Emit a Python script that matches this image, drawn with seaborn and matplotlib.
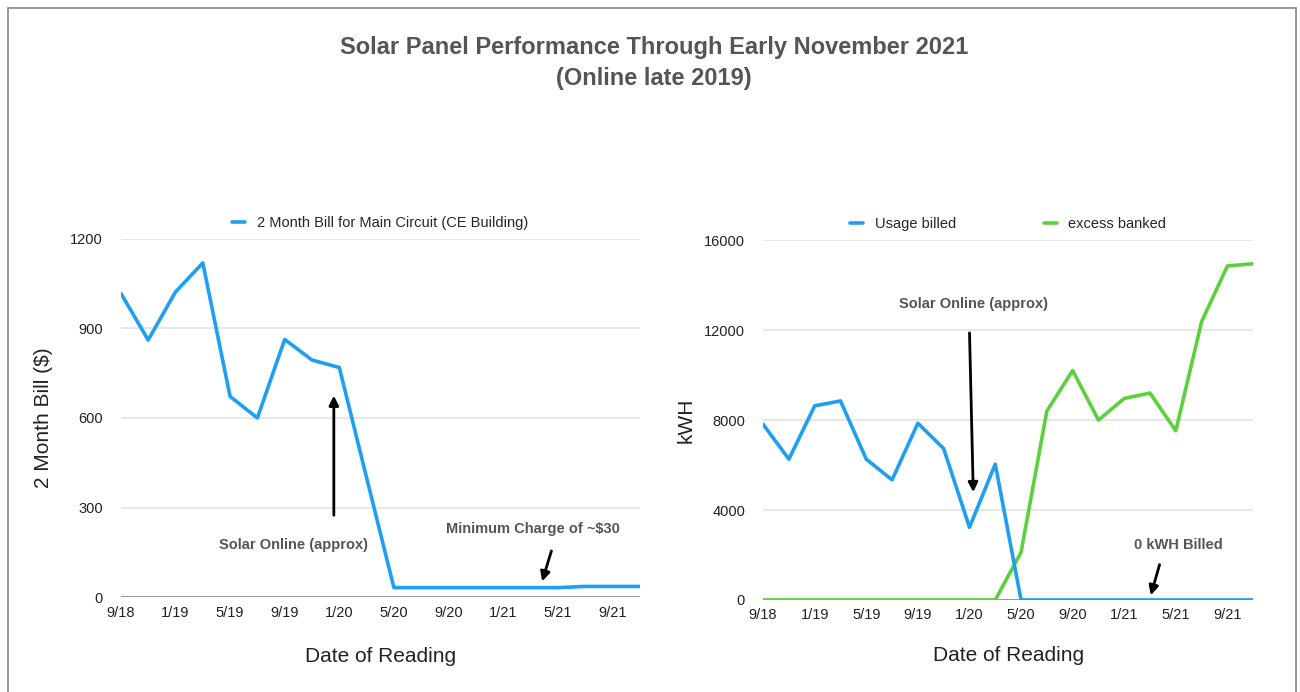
import matplotlib
matplotlib.use("Agg")
import matplotlib.pyplot as plt
from matplotlib.lines import Line2D
import seaborn as sns
import numpy as np
import pandas as pd

# bimonthly meter readings, 9/18 .. 11/21
reading_dates = ['9/18', '11/18', '1/19', '3/19', '5/19', '7/19', '9/19', '11/19',
                 '1/20', '3/20', '5/20', '7/20', '9/20', '11/20', '1/21', '3/21',
                 '5/21', '7/21', '9/21', '11/21']
bill_dollars = [1017, 861, 1022, 1119, 672, 600, 863, 794, 769, 400,
                32, 32, 32, 32, 32, 32, 32, 36, 36, 36]
usage_billed_kwh = [7810, 6260, 8630, 8850, 6260, 5340, 7860, 6730, 3230, 6040,
                    0, 0, 0, 0, 0, 0, 0, 0, 0, 0]
excess_banked_kwh = [0, 0, 0, 0, 0, 0, 0, 0, 0, 0,
                     2120, 8400, 10200, 8000, 8960, 9200, 7520, 12375, 14850, 14950]

left_yticks = [0, 300, 600, 900, 1200]
right_yticks = [0, 4000, 8000, 12000, 16000]

BLUE = '#1e9ff2'
GREEN = '#5bd13b'
GRAY_TXT = '#555555'

sns.set_theme(style='white')
plt.rcParams['font.family'] = ['Liberation Sans', 'DejaVu Sans']

df = pd.DataFrame({'idx': np.arange(len(reading_dates)),
                   'date': reading_dates,
                   'bill': bill_dollars,
                   'usage': usage_billed_kwh,
                   'excess': excess_banked_kwh})

fig = plt.figure(figsize=(13, 6.92), dpi=100)
ax1 = fig.add_axes([0.093, 0.137, 0.399, 0.518])
ax2 = fig.add_axes([0.587, 0.133, 0.377, 0.520])

# border around the whole chart
fig.add_artist(Line2D([0.006, 0.006], [0.0, 0.989], color='#888888', lw=1.2))
fig.add_artist(Line2D([0.006, 0.997], [0.989, 0.989], color='#888888', lw=1.2))
fig.add_artist(Line2D([0.997, 0.997], [0.0, 0.989], color='#888888', lw=1.2))

fig.text(0.503, 0.909, 'Solar Panel Performance Through Early November 2021\n(Online late 2019)',
         ha='center', va='center', fontsize=17, fontweight='bold', color=GRAY_TXT,
         linespacing=1.42)


def style_axes(ax, yticks, xpad):
    ax.set_xlim(0, len(reading_dates) - 1)
    ax.set_ylim(yticks[0], yticks[-1])
    ax.set_yticks(yticks)
    ax.set_xticks(df['idx'][::2])
    ax.set_xticklabels(df['date'][::2])
    for s in ax.spines.values():
        s.set_visible(False)
    for t in yticks[1:]:
        ax.axhline(t, color='#e3e3e3', lw=1.2, zorder=0)
    ax.axhline(0, color='#999999', lw=1.5, zorder=0)
    ax.tick_params(axis='both', length=0, labelsize=10.5, colors='#222222')
    ax.tick_params(axis='y', pad=13)
    ax.tick_params(axis='x', pad=6)
    ax.set_xlabel('Date of Reading', fontsize=15, color='#222222', labelpad=xpad)


# left: dollars
sns.lineplot(data=df, x='idx', y='bill', ax=ax1, color=BLUE, lw=2.6,
             label='2 Month Bill for Main Circuit (CE Building)')
style_axes(ax1, left_yticks, 20)
ax1.set_ylabel('2 Month Bill ($)', fontsize=15, color='#222222', labelpad=12)
ax1.legend(loc='lower center', bbox_to_anchor=(0.5, 1.0), frameon=False,
           handlelength=0.9, fontsize=10.5, borderaxespad=0.2)

ax1.annotate('', xy=(7.8, 684), xytext=(7.8, 265),
             arrowprops=dict(arrowstyle='-|>', color='black', lw=2, mutation_scale=14))
ax1.text(6.34, 175, 'Solar Online (approx)', ha='center', va='center',
         fontsize=10.5, fontweight='bold', color=GRAY_TXT)
ax1.annotate('', xy=(15.4, 44), xytext=(15.8, 164),
             arrowprops=dict(arrowstyle='-|>', color='black', lw=2, mutation_scale=14))
ax1.text(15.1, 228, 'Minimum Charge of ~$30', ha='center', va='center',
         fontsize=10.5, fontweight='bold', color=GRAY_TXT)

# right: kWh
sns.lineplot(data=df, x='idx', y='usage', ax=ax2, color=BLUE, lw=2.6,
             label='Usage billed', zorder=3)
sns.lineplot(data=df, x='idx', y='excess', ax=ax2, color=GREEN, lw=2.6,
             label='excess banked', zorder=2)
style_axes(ax2, right_yticks, 17)
ax2.set_ylabel('kWH', fontsize=15, color='#222222', labelpad=6)
ax2.legend(loc='lower center', bbox_to_anchor=(0.5, 1.0), frameon=False, ncol=2,
           handlelength=0.9, fontsize=10.5, columnspacing=6, borderaxespad=0.2)

ax2.annotate('', xy=(8.15, 4670), xytext=(8.0, 12000),
             arrowprops=dict(arrowstyle='-|>', color='black', lw=2, mutation_scale=14))
ax2.text(8.15, 13150, 'Solar Online (approx)', ha='center', va='center',
         fontsize=10.5, fontweight='bold', color=GRAY_TXT)
ax2.annotate('', xy=(15.0, 90), xytext=(15.4, 1690),
             arrowprops=dict(arrowstyle='-|>', color='black', lw=2, mutation_scale=14))
ax2.text(16.1, 2440, '0 kWH Billed', ha='center', va='center',
         fontsize=10.5, fontweight='bold', color=GRAY_TXT)

fig.savefig('out.png', dpi=100)
